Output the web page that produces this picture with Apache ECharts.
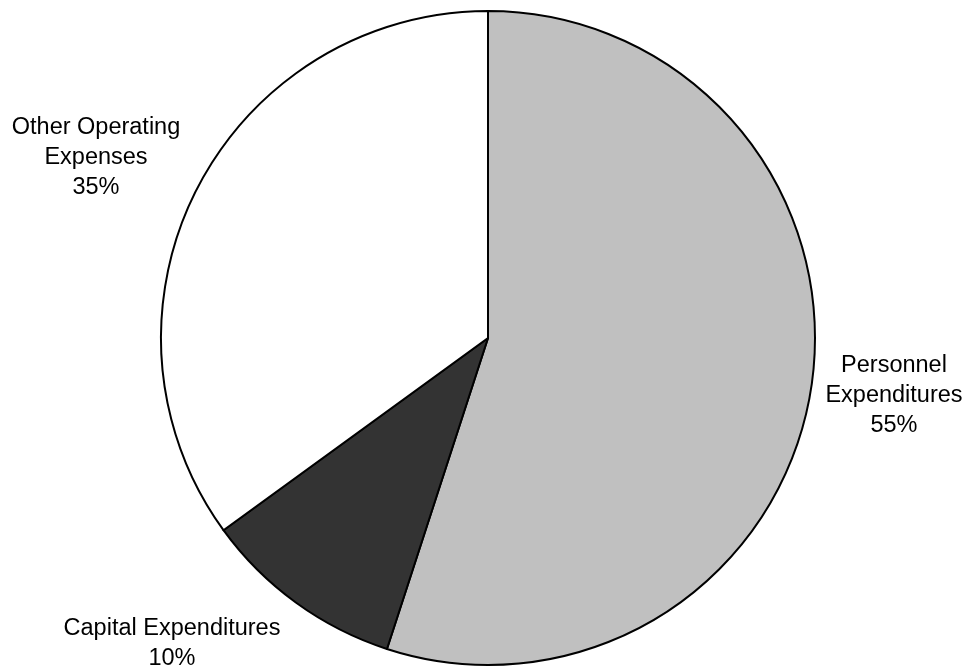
<!DOCTYPE html>
<html>
<head>
<meta charset="utf-8">
<script src="https://cdn.jsdelivr.net/npm/echarts@6/dist/echarts.min.js"></script>
<style>
html,body{margin:0;padding:0;background:#fff;}
#chart{width:968px;height:670px;}
</style>
</head>
<body>
<div id="chart"></div>
<script>
const categories = ['Personnel Expenditures', 'Capital Expenditures', 'Other Operating Expenses'];
const labelTexts = ['Personnel\nExpenditures', 'Capital Expenditures', 'Other Operating\nExpenses'];
const values = [55, 10, 35];
const colors = ['#c0c0c0', '#333333', '#ffffff'];
// label anchor positions (block centers)
const labelPos = [[894, 396], [172, 644], [96, 158]];

const chart = echarts.init(document.getElementById('chart'));
chart.setOption({
  backgroundColor: '#ffffff',
  animation: false,
  series: [{
    type: 'pie',
    center: [488, 338],
    radius: 327,
    startAngle: 90,
    clockwise: true,
    avoidLabelOverlap: false,
    data: categories.map((c, i) => ({
      name: c,
      value: values[i],
      itemStyle: { color: colors[i] },
      label: { formatter: labelTexts[i] + '\n' + values[i] + '%' }
    })),
    itemStyle: { borderColor: '#000000', borderWidth: 2 },
    label: {
      show: true,
      position: 'outside',
      color: '#000000',
      fontFamily: 'Liberation Sans, Arial, sans-serif',
      fontSize: 23.5,
      lineHeight: 30,
      align: 'center'
    },
    labelLine: { show: false },
    labelLayout: function (params) {
      const p = labelPos[params.dataIndex];
      return { x: p[0], y: p[1], align: 'center', verticalAlign: 'middle' };
    },
    emphasis: { disabled: true }
  }]
});
</script>
</body>
</html>
